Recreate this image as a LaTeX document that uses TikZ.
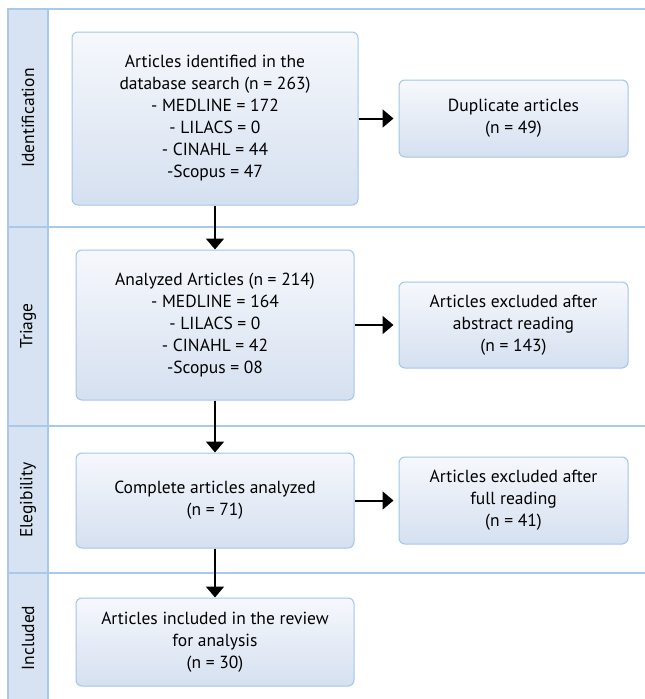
\documentclass[tikz,border=0pt]{standalone}
\usepackage{fontspec}
\setmainfont{PT Sans}
\usetikzlibrary{arrows.meta}
\definecolor{lanefill}{HTML}{D7E3F2}
\definecolor{laneline}{HTML}{A9C9E8}
\definecolor{boxtop}{HTML}{F6F8FC}
\definecolor{boxbot}{HTML}{D5E0F0}
\definecolor{boxline}{HTML}{A3C6E8}
\tikzset{
  box/.style={draw=boxline, line width=1pt, rounded corners=6pt, top color=boxtop, bottom color=boxbot,
    align=center, font=\fontsize{17.5}{22}\selectfont, inner sep=0pt},
  lanelabel/.style={rotate=90, font=\fontsize{17.5}{20}\selectfont, inner sep=0pt},
  conn/.style={line width=2pt, -{Triangle[length=11pt,width=18pt]}},
  sideconn/.style={conn, shorten >=5pt},
}
\begin{document}
\begin{tikzpicture}[x=1pt,y=-1pt]
\useasboundingbox (0,0) rectangle (645,699);
\fill[white] (0,0) rectangle (645,699);
% lanes
\fill[lanefill] (8,9) rectangle (48,699);
\draw[laneline, line width=1.2pt] (8,699) -- (8,9) -- (645,9);
\draw[laneline, line width=1.2pt] (48,9) -- (48,699);
\draw[laneline, line width=1.2pt] (8,227) -- (645,227);
\draw[laneline, line width=1.2pt] (8,426) -- (645,426);
\draw[laneline, line width=1.2pt] (8,573) -- (645,573);
\node[lanelabel] (l1) at (28,118) {Identification};
\node[lanelabel] (l2) at (28,326) {Triage};
\node[lanelabel] (l3) at (28,500) {Elegibility};
\node[lanelabel] (l4) at (28,638) {Included};
% boxes
\node[box, minimum width=286pt, minimum height=173pt] (b1) at (215,118.5)
  {Articles identified in the\\database search (n = 263)\\- MEDLINE = 172\\- LILACS = 0\\- CINAHL = 44\\-Scopus = 47};
\node[box, minimum width=229pt, minimum height=77pt] (d1) at (513.5,118.5)
  {Duplicate articles\\(n = 49)};
\node[box, minimum width=278pt, minimum height=150pt] (b2) at (215,325)
  {Analyzed Articles (n = 214)\\- MEDLINE = 164\\- LILACS = 0\\- CINAHL = 42\\-Scopus = 08};
\node[box, minimum width=229pt, minimum height=86pt] (e1) at (513.5,325)
  {Articles excluded after\\abstract reading\\(n = 143)};
\node[box, minimum width=278pt, minimum height=95pt] (b3) at (215,500.5)
  {Complete articles analyzed\\(n = 71)};
\node[box, minimum width=229pt, minimum height=87pt] (e2) at (513.5,500.5)
  {Articles excluded after\\full reading\\(n = 41)};
\node[box, minimum width=278pt, minimum height=88pt] (b4) at (215,642)
  {Articles included in the review\\for analysis\\(n = 30)};
% connectors
\draw[conn] (b1.south) -- (b2.north);
\draw[conn] (b2.south) -- (b3.north);
\draw[conn] (b3.south) -- (b4.north);
\draw[sideconn] (b1.east) -- (d1.west);
\draw[sideconn] (b2.east) -- (e1.west);
\draw[sideconn] (b3.east) -- (e2.west);
\end{tikzpicture}
\end{document}
